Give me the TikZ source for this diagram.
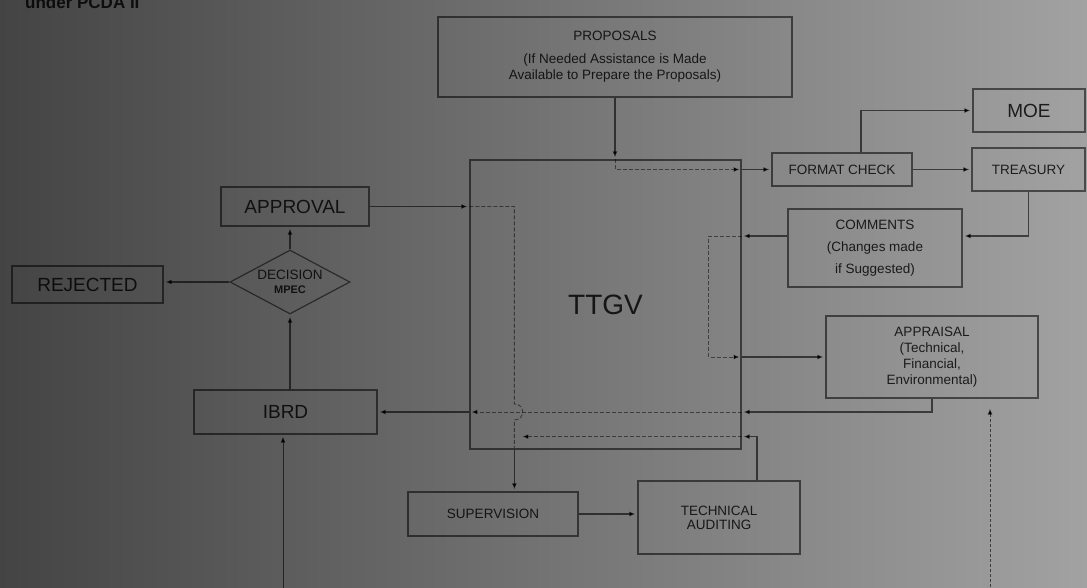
\documentclass[tikz,border=0pt]{standalone}
\usepackage{fontspec}
\setmainfont{Liberation Sans}
\usepackage{xcolor}
\usepackage{tikz}
\usetikzlibrary{arrows.meta,shapes.geometric}
\definecolor{bgleft}{RGB}{68,68,68}
\definecolor{bgright}{RGB}{162,162,162}
\tikzstyle{every node}=[text=black,text opacity=0.82,inner sep=0pt]
\tikzstyle{box}=[draw=black,draw opacity=0.55,line width=1.2pt,align=center]
\tikzstyle{bigtxt}=[font=\fontsize{19}{22}\selectfont]
\tikzstyle{smalltxt}=[font=\fontsize{13.5}{16}\selectfont]
\tikzstyle{flow}=[draw=black,draw opacity=0.6,line width=1.1pt,shorten >=2pt,-{Latex[length=6pt,width=5pt]}]
\tikzstyle{insideflow}=[flow,line width=0.9pt,draw opacity=0.5,dash pattern=on 4pt off 2pt]

\begin{document}
\begin{tikzpicture}[x=1pt,y=-1pt]
	\shade[left color=bgleft,right color=bgright] (0,0) rectangle (1087,588);
	\useasboundingbox (0,0) rectangle (1087,588);
	\node[anchor=base west,font=\bfseries\fontsize{17}{20}\selectfont] (caption) at (25,9) {under PCDA II};
	\node[box,smalltxt,minimum width=354pt,minimum height=80pt] (proposals) at (615,57) {PROPOSALS\\[7pt](If Needed Assistance is Made\\Available to Prepare the Proposals)};
	\node[box,minimum width=271pt,minimum height=289pt,font=\fontsize{28}{30}\selectfont] (ttgv) at (605.5,304.5) {TTGV};
	\node[box,smalltxt,minimum width=140pt,minimum height=33pt] (fmtcheck) at (842,169.5) {FORMAT CHECK};
	\node[box,bigtxt,minimum width=112pt,minimum height=43pt] (moe) at (1029,110.5) {MOE};
	\node[box,smalltxt,minimum width=113pt,minimum height=43pt] (treasury) at (1028.5,169.5) {TREASURY};
	\node[box,font=\fontsize{13.5}{22}\selectfont,minimum width=174pt,minimum height=78pt] (comments) at (875,248) {COMMENTS\\(Changes made\\if Suggested)};
	\node[box,smalltxt,minimum width=212pt,minimum height=82pt] (appraisal) at (932,357) {APPRAISAL\\(Technical,\\Financial,\\Environmental)};
	\node[box,bigtxt,minimum width=148pt,minimum height=39pt] (approval) at (295,206.5) {APPROVAL};
	\node[box,draw,diamond,aspect=1.9,minimum width=120pt,minimum height=64pt,font=\fontsize{13.5}{14}\selectfont] (decision) at (290,282) {DECISION\\{\bfseries\fontsize{11}{14}\selectfont MPEC}};
	\node[box,bigtxt,minimum width=151pt,minimum height=37pt] (rejected) at (87.5,284.5) {REJECTED};
	\node[box,bigtxt,minimum width=183pt,minimum height=44pt] (ibrd) at (285.5,412) {IBRD};
	\node[box,smalltxt,minimum width=170pt,minimum height=44pt] (supervision) at (493,514) {SUPERVISION};
	\node[box,font=\fontsize{13.5}{14}\selectfont,minimum width=162pt,minimum height=73pt] (techaudit) at (719,517.5) {TECHNICAL\\AUDITING};

	\coordinate (cmtin) at ([yshift=12pt]comments.east);
	\coordinate (cmtout) at ([yshift=12pt]comments.west);
	\coordinate (turn) at ([xshift=45pt]ttgv.west |- approval.east);
	\coordinate (hoptop) at ([yshift=8pt]turn |- ibrd.east);
	\coordinate (hopbot) at ([yshift=-8pt]turn |- ibrd.east);
	\coordinate (taout) at ([xshift=38pt]techaudit.north);
	\coordinate (tain) at ([yshift=13pt]ttgv.south east);
	\coordinate (ibrdsrc) at (283,592);
	\coordinate (apprsrc) at (990,592);

	\draw[flow] (proposals.south) -- (proposals.south |- ttgv.north);
	\draw[insideflow] (proposals.south |- ttgv.north) |- (ttgv.east |- fmtcheck.west);
	\draw[flow] (ttgv.east |- fmtcheck.west) -- (fmtcheck.west);
	\draw[flow] ([xshift=19pt]fmtcheck.north) |- (moe.west);
	\draw[flow] (fmtcheck.east) -- (fmtcheck.east -| treasury.west);
	\draw[flow] (treasury.south) |- (cmtin);
	\draw[flow] (cmtout) -- (ttgv.east |- cmtout);
	\draw[insideflow] (ttgv.east |- cmtout) -- ++(-33,0) |- (ttgv.east |- appraisal.west);
	\draw[flow] (ttgv.east |- appraisal.west) -- (appraisal.west);
	\draw[flow] (appraisal.south) |- (ttgv.east |- ibrd.east);
	\draw[insideflow] (ttgv.east |- ibrd.east) -- (ttgv.west |- ibrd.east);
	\draw[flow] (ttgv.west |- ibrd.east) -- (ibrd.east);
	\draw[flow] (approval.east) -- (ttgv.west |- approval.east);
	\draw[insideflow,-] (ttgv.west |- approval.east) -- (turn) -- (hoptop) .. controls +(11,0) and +(11,0) .. (hopbot) -- (turn |- ttgv.south);
	\draw[flow] (turn |- ttgv.south) -- (turn |- supervision.north);
	\draw[flow] (supervision.east) -- (supervision.east -| techaudit.west);
	\draw[flow] (taout) |- (tain);
	\draw[insideflow] (tain) -- ([xshift=6pt]turn |- tain);
	\draw[flow] (decision.south |- ibrd.north) -- (decision.south);
	\draw[flow] (decision.north) -- (decision.north |- approval.south);
	\draw[flow] (decision.west) -- (rejected.east |- decision.west);
	\draw[flow,line width=0.9pt] (ibrdsrc) -- (ibrdsrc |- ibrd.south);
	\draw[flow,line width=0.9pt,dash pattern=on 3pt off 2pt,shorten >=10pt] (apprsrc) -- (apprsrc |- appraisal.south);
\end{tikzpicture}
\end{document}
